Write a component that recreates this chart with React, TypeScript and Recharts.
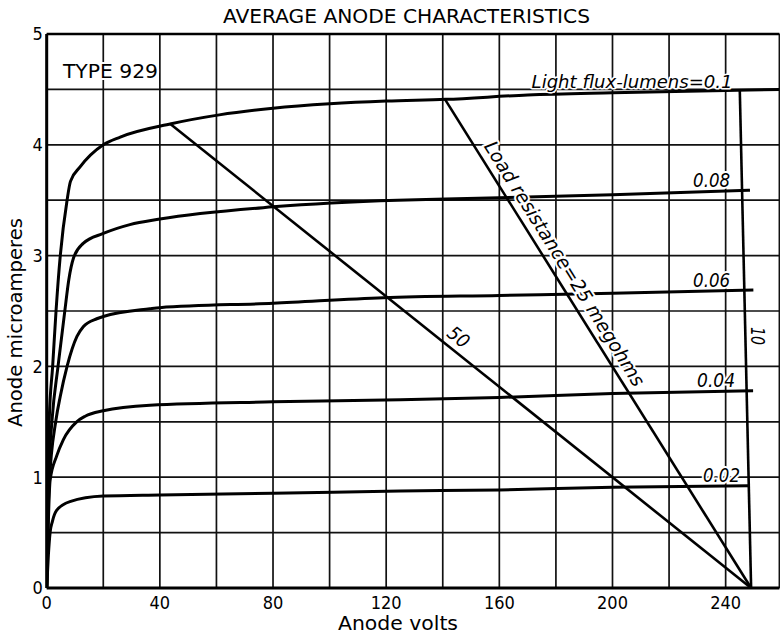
import React from "react";
import {
  LineChart,
  Line,
  XAxis,
  YAxis,
  CartesianGrid,
  ReferenceDot,
  ReferenceLine,
} from "recharts";

const FONT =
  "'DejaVu Sans Condensed', 'Liberation Sans Narrow', 'DejaVu Sans', sans-serif";

const VOLT_TICKS = [0, 20, 40, 60, 80, 100, 120, 140, 160, 180, 200, 220, 240];
const AMP_TICKS = [0, 0.5, 1, 1.5, 2, 2.5, 3, 3.5, 4, 4.5, 5];

// [anode volts, anode microamperes]
const FLUX_010 = [
  [0, 0], [0.3, 0.7], [0.9, 1.52], [2.1, 2.0], [3.3, 2.5], [4.8, 3.0],
  [7.2, 3.5], [8.4, 3.67], [11.8, 3.8], [20, 4.0], [26, 4.07], [44, 4.19],
  [61, 4.27], [80, 4.33], [100, 4.37], [120, 4.395], [141, 4.41],
  [170, 4.45], [200, 4.47], [240, 4.49], [259, 4.5],
];
const FLUX_008 = [
  [0, 0], [0.5, 0.9], [1.9, 1.52], [4.0, 2.0], [6.4, 2.5], [7.8, 2.78],
  [9.5, 2.98], [12.9, 3.11], [20, 3.2], [29.4, 3.28], [40, 3.33],
  [80, 3.44], [124, 3.5], [141, 3.51], [200, 3.55], [248.6, 3.59],
];
const FLUX_006 = [
  [0, 0], [0.8, 0.9], [3.3, 1.52], [4.8, 1.73], [7.2, 2.0], [10.7, 2.27],
  [13, 2.36], [17.7, 2.43], [20, 2.45], [36.5, 2.52], [40, 2.53],
  [80, 2.57], [119, 2.62], [160, 2.64], [200, 2.66], [249.8, 2.69],
];
const FLUX_004 = [
  [0, 0], [1.2, 0.97], [3.5, 1.19], [5.9, 1.34], [10.6, 1.5], [13.6, 1.55],
  [20, 1.6], [36.5, 1.65], [80, 1.68], [125, 1.7], [160, 1.72],
  [200, 1.755], [249.7, 1.78],
];
const FLUX_002 = [
  [0, 0], [0.6, 0.3], [1.2, 0.5], [2, 0.6], [3.5, 0.7], [8.2, 0.78],
  [20, 0.83], [40, 0.84], [80, 0.855], [125, 0.875], [160, 0.885],
  [200, 0.91], [248, 0.923],
];

// load lines, 250 V supply
const LOAD_10 = [[245, 4.49], [249, 0]];
const LOAD_25 = [[140.8, 4.41], [249, 0]];
const LOAD_50 = [[43.6, 4.19], [249, 0]];

const toPoints = (pts: number[][]) => pts.map(([v, i]) => ({ v, i }));

const CURVES = [FLUX_010, FLUX_008, FLUX_006, FLUX_004, FLUX_002];
const LOADS = [LOAD_10, LOAD_25, LOAD_50];

type Note = {
  text: string;
  v: number;
  i: number;
  len: number;
  angle?: number;
  size?: number;
  upright?: boolean;
  halo?: number;
};

const NOTES: Note[] = [
  { text: "TYPE 929", v: 5.76, i: 4.6, len: 95, size: 20, upright: true, halo: 4 },
  { text: "Light flux-lumens=0.1", v: 171.4, i: 4.513, len: 201, size: 18, halo: 3 },
  { text: "0.08", v: 228.5, i: 3.62, len: 37, halo: 4 },
  { text: "0.06", v: 228.5, i: 2.717, len: 37, halo: 4 },
  { text: "0.04", v: 229.9, i: 1.814, len: 38, halo: 4 },
  { text: "0.02", v: 232, i: 0.957, len: 37, halo: 4 },
  { text: "Load resistance=25 megohms", v: 154.4, i: 3.987, len: 285, angle: 58, halo: 4 },
  { text: "50", v: 141.1, i: 2.28, len: 22, angle: 39, halo: 3 },
  { text: "10", v: 249.1, i: 2.356, len: 18, angle: 90 },
];

function NoteText({ viewBox, note }: { viewBox?: { x: number; y: number }; note: Note }) {
  if (!viewBox) return null;
  const { x, y } = viewBox;
  return (
    <text
      x={x}
      y={y}
      transform={note.angle ? `rotate(${note.angle} ${x} ${y})` : undefined}
      fontFamily={FONT}
      fontSize={note.size ?? 19}
      fontStyle={note.upright ? "normal" : "italic"}
      fill="#000"
      textLength={note.len}
      lengthAdjust="spacingAndGlyphs"
      stroke={note.halo ? "#fff" : "none"}
      strokeWidth={note.halo ?? 0}
      strokeLinejoin="round"
      paintOrder="stroke"
    >
      {note.text}
    </text>
  );
}

const tickStyle = { fill: "#000", fontSize: 18, fontFamily: FONT };

export default function App() {
  return (
    <div style={{ position: "absolute", left: 0, top: 0, background: "#fff" }}>
      <LineChart
        width={780}
        height={635}
        margin={{ top: 34, right: 0.6, bottom: 0, left: 0 }}
      >
        <CartesianGrid stroke="#111" strokeWidth={1.7} />
        <XAxis
          type="number"
          dataKey="v"
          domain={[0, 259]}
          ticks={VOLT_TICKS}
          interval={0}
          height={47}
          tickLine={false}
          axisLine={{ stroke: "#000", strokeWidth: 3 }}
          tick={tickStyle}
          tickFormatter={(v: number) => (v % 40 === 0 ? String(v) : "")}
          allowDataOverflow
        />
        <YAxis
          type="number"
          domain={[0, 5]}
          ticks={AMP_TICKS}
          interval={0}
          width={46.7}
          tickLine={false}
          tickSize={4}
          tickMargin={0}
          axisLine={{ stroke: "#000", strokeWidth: 3 }}
          tick={tickStyle}
          tickFormatter={(v: number) => (Number.isInteger(v) ? String(v) : "")}
        />
        <ReferenceLine y={5} stroke="#000" strokeWidth={2.5} />
        {NOTES.map((n) => (
          <ReferenceDot
            key={n.text}
            x={n.v}
            y={n.i}
            r={0}
            fill="none"
            stroke="none"
            ifOverflow="visible"
            label={<NoteText note={n} />}
          />
        ))}
        {CURVES.map((c, k) => (
          <Line
            key={`flux-${k}`}
            data={toPoints(c)}
            dataKey="i"
            type="monotone"
            stroke="#000"
            strokeWidth={3}
            dot={false}
            activeDot={false}
            isAnimationActive={false}
          />
        ))}
        {LOADS.map((l, k) => (
          <Line
            key={`load-${k}`}
            data={toPoints(l)}
            dataKey="i"
            type="linear"
            stroke="#000"
            strokeWidth={2.6}
            dot={false}
            activeDot={false}
            isAnimationActive={false}
          />
        ))}
        <text
          x={223}
          y={23}
          fontFamily={FONT}
          fontSize={20}
          fill="#000"
          textLength={367}
          lengthAdjust="spacingAndGlyphs"
        >
          AVERAGE ANODE CHARACTERISTICS
        </text>
        <text
          x={338}
          y={630}
          fontFamily={FONT}
          fontSize={19}
          fill="#000"
          textLength={120}
          lengthAdjust="spacingAndGlyphs"
        >
          Anode volts
        </text>
        <text
          x={22}
          y={427}
          transform="rotate(-90 22 427)"
          fontFamily={FONT}
          fontSize={20}
          fill="#000"
          textLength={209}
          lengthAdjust="spacingAndGlyphs"
        >
          Anode microamperes
        </text>
      </LineChart>
    </div>
  );
}
